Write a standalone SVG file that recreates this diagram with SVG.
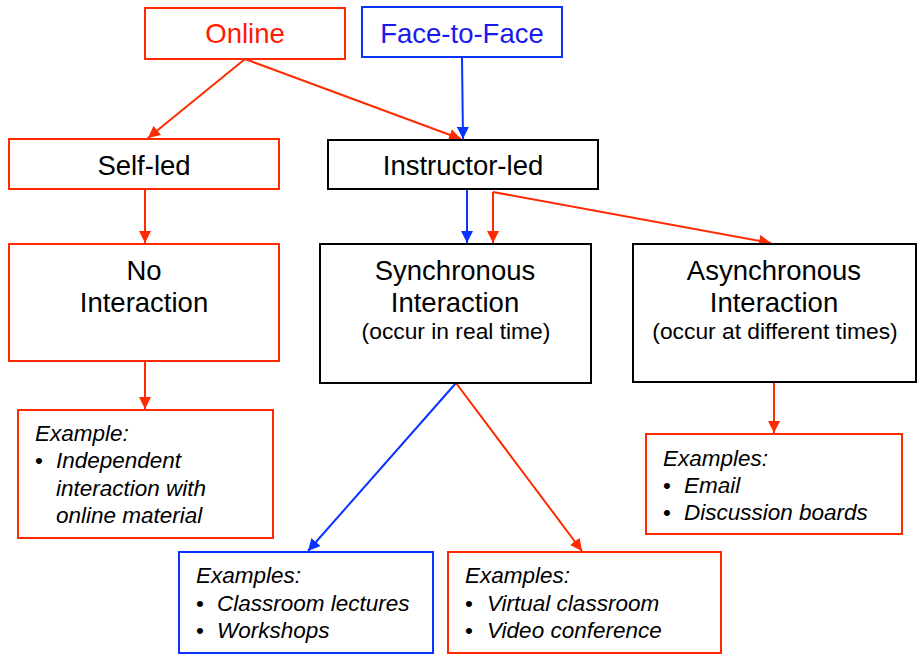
<svg xmlns="http://www.w3.org/2000/svg" width="917" height="654" viewBox="0 0 917 654">
<style>
.box{fill:#fff;stroke-width:2}
.r{stroke:#ff2a00}
.b{stroke:#0a32ff}
.k{stroke:#000}
.t{font-family:"Liberation Sans",Arial,sans-serif;font-size:27.5px;fill:#000;text-anchor:middle}
.s{font-family:"Liberation Sans",Arial,sans-serif;font-size:22.8px;fill:#000;text-anchor:middle}
.i{font-family:"Liberation Sans",Arial,sans-serif;font-size:22.5px;font-style:italic;fill:#000}
.lr{stroke:#ff2a00;stroke-width:2;fill:none}
.lb{stroke:#0a32ff;stroke-width:2;fill:none}
</style>
<defs>
<marker id="ar" viewBox="0 0 12 12" refX="12" refY="6" markerWidth="12" markerHeight="12" markerUnits="userSpaceOnUse" orient="auto"><path d="M0,0 L12,6 L0,12 Z" fill="#ff2a00"/></marker>
<marker id="ab" viewBox="0 0 12 12" refX="12" refY="6" markerWidth="12" markerHeight="12" markerUnits="userSpaceOnUse" orient="auto"><path d="M0,0 L12,6 L0,12 Z" fill="#0a32ff"/></marker>
</defs>
<g id="connectors">
<line class="lr" x1="245" y1="59" x2="148" y2="138" marker-end="url(#ar)"/>
<line class="lr" x1="245" y1="59" x2="461" y2="139" marker-end="url(#ar)"/>
<line class="lb" x1="462" y1="57" x2="463" y2="139" marker-end="url(#ab)"/>
<line class="lr" x1="145" y1="189" x2="145" y2="243" marker-end="url(#ar)"/>
<line class="lb" x1="467" y1="190" x2="467" y2="243" marker-end="url(#ab)"/>
<line class="lr" x1="493" y1="192" x2="493" y2="243" marker-end="url(#ar)"/>
<line class="lr" x1="493" y1="192" x2="771" y2="243" marker-end="url(#ar)"/>
<line class="lr" x1="145" y1="361" x2="145" y2="409" marker-end="url(#ar)"/>
<line class="lb" x1="456" y1="383" x2="308" y2="551" marker-end="url(#ab)"/>
<line class="lr" x1="456" y1="383" x2="582" y2="551" marker-end="url(#ar)"/>
<line class="lr" x1="774" y1="382" x2="774" y2="433" marker-end="url(#ar)"/>
</g>
<g id="online"><rect class="box r" x="145" y="8" width="200" height="51"/><text class="t" x="245" y="43" style="fill:#ff1a00">Online</text></g>
<g id="face"><rect class="box b" x="362" y="7" width="200" height="50"/><text class="t" x="462" y="43" style="fill:#1a1aee">Face-to-Face</text></g>
<g id="selfled"><rect class="box r" x="9" y="139" width="270" height="50"/><text class="t" x="144" y="175">Self-led</text></g>
<g id="instructorled"><rect class="box k" x="328" y="140" width="270" height="49"/><text class="t" x="463" y="175">Instructor-led</text></g>
<g id="nointeraction"><rect class="box r" x="9" y="244" width="270" height="117"/><text class="t" x="144" y="280">No</text><text class="t" x="144" y="312">Interaction</text></g>
<g id="synchronous"><rect class="box k" x="320" y="244" width="271" height="139"/><text class="t" x="455" y="280">Synchronous</text><text class="t" x="455" y="312">Interaction</text><text class="s" x="456" y="339">(occur in real time)</text></g>
<g id="asynchronous"><rect class="box k" x="633" y="244" width="283" height="138"/><text class="t" x="774" y="280">Asynchronous</text><text class="t" x="774" y="312">Interaction</text><text class="s" x="775" y="339">(occur at different times)</text></g>
<g id="ex-self"><rect class="box r" x="18" y="410" width="255" height="128"/>
<text class="i" x="35" y="441">Example:</text>
<text class="i" x="35" y="468" style="font-style:normal">•</text>
<text class="i" x="56" y="468">Independent</text>
<text class="i" x="56" y="496">interaction with</text>
<text class="i" x="56" y="523">online material</text></g>
<g id="ex-f2f"><rect class="box b" x="179" y="552" width="254" height="101"/>
<text class="i" x="196" y="583">Examples:</text>
<text class="i" x="196" y="611" style="font-style:normal">•</text><text class="i" x="217" y="611">Classroom lectures</text>
<text class="i" x="196" y="638" style="font-style:normal">•</text><text class="i" x="217" y="638">Workshops</text></g>
<g id="ex-sync"><rect class="box r" x="448" y="552" width="273" height="101"/>
<text class="i" x="465" y="583">Examples:</text>
<text class="i" x="465" y="611" style="font-style:normal">•</text><text class="i" x="487" y="611">Virtual classroom</text>
<text class="i" x="465" y="638" style="font-style:normal">•</text><text class="i" x="487" y="638">Video conference</text></g>
<g id="ex-async"><rect class="box r" x="646" y="434" width="256" height="100"/>
<text class="i" x="663" y="466">Examples:</text>
<text class="i" x="663" y="493" style="font-style:normal">•</text><text class="i" x="684" y="493">Email</text>
<text class="i" x="663" y="520" style="font-style:normal">•</text><text class="i" x="684" y="520">Discussion boards</text></g>
</svg>
